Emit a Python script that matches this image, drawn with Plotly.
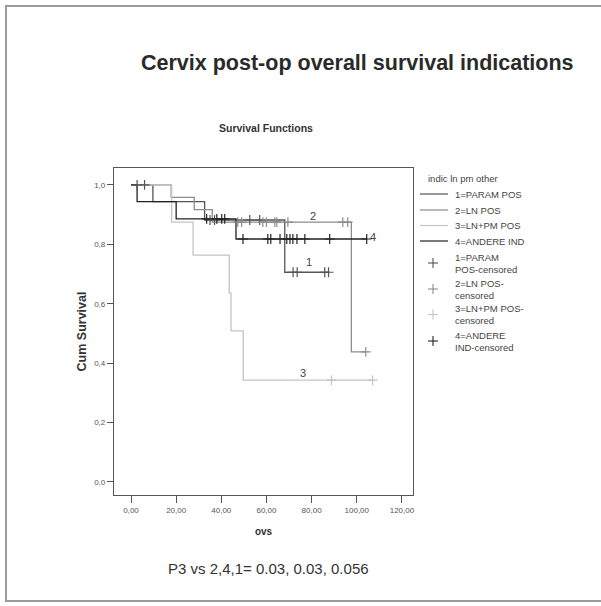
import plotly.graph_objects as go

# ---------------- data ----------------
g1_event_t = [9.7, 32.6, 68.1]
g1_surv = [0.944, 0.882, 0.706]
g1_end = 87.5
g1_cens = [2.7, 6.0, 35.0, 37.0, 52.6, 57.0, 71.8, 73.6, 85.8, 87.5]

g2_event_t = [17.8, 28.0, 36.0, 97.6]
g2_surv = [0.958, 0.917, 0.875, 0.438]
g2_end = 104.0
g2_cens = [47.3, 49.0, 58.4, 60.0, 63.7, 64.6, 69.5, 93.8, 96.0, 104.0]

g3_event_t = [18.0, 27.5, 43.5, 44.3, 49.7]
g3_surv = [0.875, 0.764, 0.636, 0.509, 0.343]
g3_end = 107.0
g3_cens = [88.8, 107.0]

g4_event_t = [2.7, 20.0, 46.5]
g4_surv = [0.944, 0.886, 0.818]
g4_end = 104.4
g4_cens = [33.5, 38.0, 40.2, 41.5, 49.6, 60.6, 61.9, 66.0, 69.0, 70.4, 71.7,
           73.5, 77.0, 88.0, 104.4]

legend_title = "indic ln pm other"
group_names = ["1=PARAM POS", "2=LN POS", "3=LN+PM POS", "4=ANDERE IND"]
cens_names = ["1=PARAM<br>POS-censored", "2=LN POS-<br>censored",
              "3=LN+PM POS-<br>censored", "4=ANDERE<br>IND-censored"]
curve_labels = ["1", "2", "3", "4"]
label_x = [79.0, 80.5, 76.0, 107.0]
label_y = [0.74, 0.895, 0.366, 0.824]

x_tickvals = [0, 20, 40, 60, 80, 100, 120]
x_ticktext = ["0,00", "20,00", "40,00", "60,00", "80,00", "100,00", "120,00"]
y_tickvals = [0.0, 0.2, 0.4, 0.6, 0.8, 1.0]
y_ticktext = ["0,0", "0,2", "0,4", "0,6", "0,8", "1,0"]

colors = ["#555555", "#8c8c8c", "#c4c4c4", "#222222"]

groups = [
    (g1_event_t, g1_surv, g1_end, g1_cens),
    (g2_event_t, g2_surv, g2_end, g2_cens),
    (g3_event_t, g3_surv, g3_end, g3_cens),
    (g4_event_t, g4_surv, g4_end, g4_cens),
]


def surv_at(t, ev_t, ev_s):
    s = 1.0
    for et, es in zip(ev_t, ev_s):
        if t >= et:
            s = es
    return s


W, H = 601, 606
L, R, T, B = 114, 413, 168, 495   # plot frame in pixels


def px(xp):
    return (xp - L) / (R - L)


def py(yp):
    return (B - yp) / (B - T)


fig = go.Figure()
FONT = "Liberation Sans, Arial, sans-serif"

for i, (ev_t, ev_s, end, cens) in enumerate(groups):
    xs = [0.0] + list(ev_t) + [end]
    ys = [1.0] + list(ev_s) + [ev_s[-1]]
    fig.add_trace(go.Scatter(
        x=xs, y=ys, mode="lines", line=dict(color=colors[i], width=1.3, shape="hv"),
        name=group_names[i], showlegend=False, hoverinfo="skip"))

for i, (ev_t, ev_s, end, cens) in enumerate(groups):
    cy = [surv_at(t, ev_t, ev_s) for t in cens]
    fig.add_trace(go.Scatter(
        x=cens, y=cy, mode="markers",
        marker=dict(symbol="cross-thin", size=7, line=dict(color=colors[i], width=1.2)),
        name=cens_names[i], showlegend=False, hoverinfo="skip"))

for i in range(4):
    fig.add_annotation(x=label_x[i], y=label_y[i], xref="x", yref="y",
                       text=curve_labels[i], showarrow=False,
                       xanchor="center", yanchor="middle",
                       font=dict(size=11, color="#444444", family=FONT))

# ---------------- manual legend (SPSS style) ----------------
LEG_TXT_X = 453
fig.add_annotation(x=px(426), y=py(178), xref="paper", yref="paper",
                   text=legend_title, showarrow=False, xanchor="left", yanchor="middle",
                   font=dict(size=9.5, color="#444444", family=FONT))
line_rows = [194, 210, 225.5, 241]
for i, yy in enumerate(line_rows):
    fig.add_shape(type="line", xref="paper", yref="paper",
                  x0=px(420), x1=px(448), y0=py(yy), y1=py(yy),
                  line=dict(color=colors[i], width=1.2))
    fig.add_annotation(x=px(LEG_TXT_X), y=py(yy), xref="paper", yref="paper",
                       text=group_names[i], showarrow=False, xanchor="left", yanchor="middle",
                       font=dict(size=9.5, color="#444444", family=FONT))
cens_rows = [263, 289, 314.5, 341]
for i, yy in enumerate(cens_rows):
    fig.add_shape(type="line", xref="paper", yref="paper",
                  x0=px(428), x1=px(438), y0=py(yy), y1=py(yy),
                  line=dict(color=colors[i], width=1.1))
    fig.add_shape(type="line", xref="paper", yref="paper",
                  x0=px(433), x1=px(433), y0=py(yy - 5), y1=py(yy + 5),
                  line=dict(color=colors[i], width=1.1))
    fig.add_annotation(x=px(LEG_TXT_X), y=py(yy), xref="paper", yref="paper",
                       text=cens_names[i], showarrow=False, xanchor="left", yanchor="middle",
                       align="left",
                       font=dict(size=9.5, color="#444444", family=FONT))

# ---------------- titles / texts ----------------
fig.add_annotation(x=px(357), y=py(63), xref="paper", yref="paper",
                   text="<b>Cervix post-op overall survival indications</b>",
                   showarrow=False, xanchor="center", yanchor="middle",
                   font=dict(size=21.5, color="#2a2a2a", family=FONT))
fig.add_annotation(x=px(266), y=py(128), xref="paper", yref="paper",
                   text="<b>Survival Functions</b>", showarrow=False,
                   xanchor="center", yanchor="middle",
                   font=dict(size=10.5, color="#333333", family=FONT))
fig.add_annotation(x=px(268), y=py(568), xref="paper", yref="paper",
                   text="P3 vs 2,4,1= 0.03, 0.03, 0.056", showarrow=False,
                   xanchor="center", yanchor="middle",
                   font=dict(size=15, color="#333333", family=FONT))

# outer scanned frame
fig.add_shape(type="rect", xref="paper", yref="paper",
              x0=px(6), x1=px(640), y0=py(601), y1=py(6),
              line=dict(color="#9a9a9a", width=2), layer="below")

fig.update_xaxes(range=[-7.53, 124.9], tickvals=x_tickvals, ticktext=x_ticktext,
                 ticks="outside", ticklen=7, tickcolor="#555555",
                 showline=True, linecolor="#555555", linewidth=1.2, mirror=True,
                 showgrid=False, zeroline=False,
                 tickfont=dict(size=8, color="#555555", family=FONT),
                 title=dict(text="<b>ovs</b>", font=dict(size=10, color="#333333", family=FONT),
                            standoff=14))
fig.update_yaxes(range=[-0.0438, 1.057], tickvals=y_tickvals, ticktext=y_ticktext,
                 ticks="outside", ticklen=6, tickcolor="#555555",
                 showline=True, linecolor="#555555", linewidth=1.2, mirror=True,
                 showgrid=False, zeroline=False,
                 tickfont=dict(size=8, color="#555555", family=FONT),
                 title=dict(text="<b>Cum Survival</b>", font=dict(size=12.5, color="#333333", family=FONT),
                            standoff=4))

fig.update_layout(
    width=W, height=H, autosize=False,
    margin=dict(l=L, r=W - R, t=T, b=H - B),
    paper_bgcolor="white", plot_bgcolor="white",
    showlegend=False,
)

fig.write_html("out.html")
